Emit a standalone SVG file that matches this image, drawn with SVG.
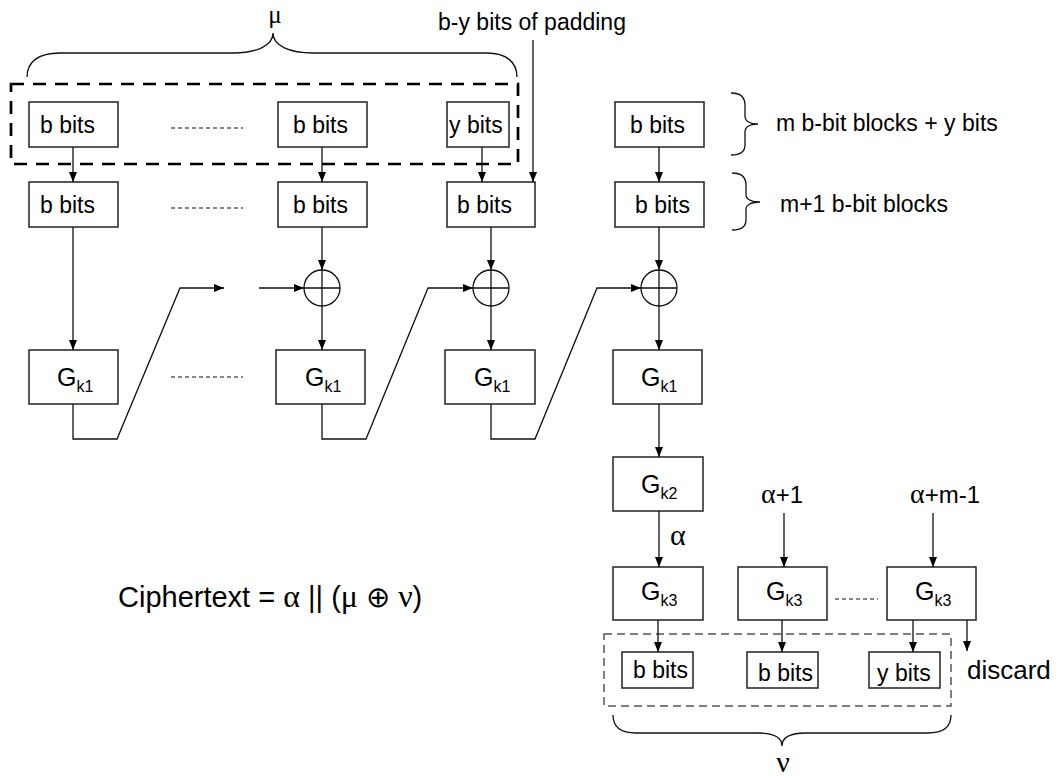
<svg xmlns="http://www.w3.org/2000/svg" width="1060" height="780" viewBox="0 0 1060 780">
<style>
text{font-family:"Liberation Sans",Arial,sans-serif;fill:#000}
.box{fill:#fff;stroke:#222;stroke-width:1.5}
.t{font-size:23px}
.sub{font-size:16px}
.ln{fill:none;stroke:#111;stroke-width:1.3}
.dot{fill:none;stroke:#111;stroke-width:1.2;stroke-dasharray:4 3}
.brace{fill:none;stroke:#111;stroke-width:1.3}
.gr{font-family:"Liberation Serif","Times New Roman",serif}
</style>
<defs>
<marker id="ah" viewBox="0 0 10 8" refX="10" refY="4" markerWidth="10" markerHeight="8" markerUnits="userSpaceOnUse" orient="auto">
<path d="M0,0 L10,4 L0,8 z" fill="#000"/>
</marker>
</defs>

<g id="mu-brace">
<path class="brace" d="M27,77 C27,62 38,53 60,53 L233,53 C256,53 273,46 273,33 C273,46 290,53 313,53 L487,53 C506,53 517,62 517,77"/>
<text x="275" y="23" font-size="25" text-anchor="middle" class="gr">μ</text>
</g>
<g id="input-group">
<rect x="11" y="84" width="507" height="80" fill="none" stroke="#000" stroke-width="2.7" stroke-dasharray="13 9"/>
</g>
<g id="padding-label"><text x="438" y="30" class="t">b-y bits of padding</text></g>

<g id="in1"><rect class="box" x="29" y="102" width="89" height="45"/><text class="t" x="40" y="133">b bits</text></g>
<g id="in2"><rect class="box" x="278" y="102" width="89" height="45"/><text class="t" x="293" y="133">b bits</text></g>
<g id="in3"><rect class="box" x="447" y="102" width="62" height="45"/><text class="t" x="449" y="133">y bits</text></g>
<g id="in4"><rect class="box" x="615" y="102" width="89" height="45"/><text class="t" x="630" y="133">b bits</text></g>

<g id="pad1"><rect class="box" x="29" y="182" width="89" height="45"/><text class="t" x="40" y="213">b bits</text></g>
<g id="pad2"><rect class="box" x="278" y="182" width="89" height="45"/><text class="t" x="293" y="213">b bits</text></g>
<g id="pad3"><rect class="box" x="447" y="182" width="88" height="45"/><text class="t" x="457" y="213">b bits</text></g>
<g id="pad4"><rect class="box" x="615" y="182" width="89" height="45"/><text class="t" x="635" y="213">b bits</text></g>

<g id="brace-m">
<path class="brace" d="M731,93 C741,93 745,97 745,105 L745,116 C745,121 750,124 758,124 C750,124 745,127 745,132 L745,145 C745,151 741,155 731,155"/>
<text class="t" x="776" y="131">m b-bit blocks + y bits</text>
</g>
<g id="brace-m1">
<path class="brace" d="M732,173 C742,173 746,177 746,185 L746,195 C746,199 751,202 760,202 C751,202 746,205 746,209 L746,220 C746,226 742,230 732,230"/>
<text class="t" x="780" y="212">m+1 b-bit blocks</text>
</g>

<g id="xor2"><circle cx="322" cy="288" r="18" fill="#fff" stroke="#111" stroke-width="1.3"/><path class="ln" d="M304,288 H340 M322,270 V306"/></g>
<g id="xor3"><circle cx="491" cy="288" r="18" fill="#fff" stroke="#111" stroke-width="1.3"/><path class="ln" d="M473,288 H509 M491,270 V306"/></g>
<g id="xor4"><circle cx="659" cy="288" r="18" fill="#fff" stroke="#111" stroke-width="1.3"/><path class="ln" d="M641,288 H677 M659,270 V306"/></g>

<g id="g1"><rect class="box" x="29" y="350" width="89" height="54"/><text x="57" y="386" font-size="25">G<tspan class="sub" dy="6">k1</tspan></text></g>
<g id="g2"><rect class="box" x="276" y="350" width="89" height="54"/><text x="305" y="386" font-size="25">G<tspan class="sub" dy="6">k1</tspan></text></g>
<g id="g3"><rect class="box" x="445" y="350" width="90" height="54"/><text x="474" y="386" font-size="25">G<tspan class="sub" dy="6">k1</tspan></text></g>
<g id="g4"><rect class="box" x="613" y="350" width="89" height="54"/><text x="641" y="386" font-size="25">G<tspan class="sub" dy="6">k1</tspan></text></g>
<g id="gk2"><rect class="box" x="613" y="457" width="90" height="54"/><text x="641" y="493" font-size="25">G<tspan class="sub" dy="6">k2</tspan></text></g>

<g id="gk3a"><rect class="box" x="613" y="567" width="90" height="53"/><text x="641" y="600" font-size="25">G<tspan class="sub" dy="6">k3</tspan></text></g>
<g id="gk3b"><rect class="box" x="738" y="567" width="89" height="53"/><text x="766" y="600" font-size="25">G<tspan class="sub" dy="6">k3</tspan></text></g>
<g id="gk3c"><rect class="box" x="887" y="567" width="89" height="53"/><text x="915" y="600" font-size="25">G<tspan class="sub" dy="6">k3</tspan></text></g>

<g id="alpha-labels">
<text x="670" y="545" font-size="30" class="gr">α</text>
<text x="782" y="503" font-size="24" text-anchor="middle"><tspan class="gr" font-size="28">α</tspan>+1</text>
<text x="945" y="503" font-size="24" text-anchor="middle"><tspan class="gr" font-size="28">α</tspan>+m-1</text>
</g>

<g id="output-group">
<rect x="604" y="634" width="347" height="72" fill="none" stroke="#555" stroke-width="1.5" stroke-dasharray="8 5"/>
</g>
<g id="out1"><rect class="box" x="622" y="652" width="71" height="36"/><text class="t" x="633" y="678">b bits</text></g>
<g id="out2"><rect class="box" x="747" y="652" width="71" height="36"/><text class="t" x="758" y="681">b bits</text></g>
<g id="out3"><rect class="box" x="869" y="652" width="71" height="36"/><text class="t" x="877" y="681">y bits</text></g>
<g id="discard"><text x="967" y="679" font-size="26">discard</text></g>

<g id="nu-brace">
<path class="brace" d="M613,715 C613,727 621,733 636,733 L758,733 C774,733 782,738 782,746 C782,738 790,733 806,733 L928,733 C943,733 951,727 951,715"/>
<text x="783" y="772" font-size="30" text-anchor="middle" class="gr">ν</text>
</g>

<g id="formula"><text x="118" y="607" font-size="29">Ciphertext = <tspan class="gr" font-size="32">α</tspan> || (<tspan class="gr" font-size="32">μ</tspan> ⊕ <tspan class="gr" font-size="32">ν</tspan>)</text></g>

<g id="connectors">
<path class="ln" marker-end="url(#ah)" d="M73,147 V182"/>
<path class="ln" marker-end="url(#ah)" d="M322,147 V182"/>
<path class="ln" marker-end="url(#ah)" d="M482,147 V182"/>
<path class="ln" marker-end="url(#ah)" d="M659,147 V182"/>
<path class="ln" marker-end="url(#ah)" d="M533,40 V182"/>
<path class="ln" marker-end="url(#ah)" d="M73,227 V350"/>
<path class="ln" marker-end="url(#ah)" d="M322,227 V270"/>
<path class="ln" marker-end="url(#ah)" d="M491,227 V270"/>
<path class="ln" marker-end="url(#ah)" d="M659,227 V270"/>
<path class="ln" marker-end="url(#ah)" d="M322,306 V350"/>
<path class="ln" marker-end="url(#ah)" d="M491,306 V350"/>
<path class="ln" marker-end="url(#ah)" d="M659,306 V350"/>
<path class="ln" marker-end="url(#ah)" d="M73,404 V439 H117 L180,288 H224"/>
<path class="ln" marker-end="url(#ah)" d="M259,288 H304"/>
<path class="ln" marker-end="url(#ah)" d="M322,404 V439 H366 L428,288 H473"/>
<path class="ln" marker-end="url(#ah)" d="M491,404 V439 H535 L597,288 H641"/>
<path class="ln" marker-end="url(#ah)" d="M659,404 V457"/>
<path class="ln" marker-end="url(#ah)" d="M659,511 V567"/>
<path class="ln" marker-end="url(#ah)" d="M784,513 V567"/>
<path class="ln" marker-end="url(#ah)" d="M933,513 V567"/>
<path class="ln" marker-end="url(#ah)" d="M658,620 V652"/>
<path class="ln" marker-end="url(#ah)" d="M782,620 V652"/>
<path class="ln" marker-end="url(#ah)" d="M913,620 V652"/>
<path class="ln" marker-end="url(#ah)" d="M967,620 V651"/>
<path class="dot" d="M171,128 H243"/>
<path class="dot" d="M171,208 H243"/>
<path class="dot" d="M171,377 H243"/>
<path class="dot" d="M835,599 H878"/>
</g>
</svg>
